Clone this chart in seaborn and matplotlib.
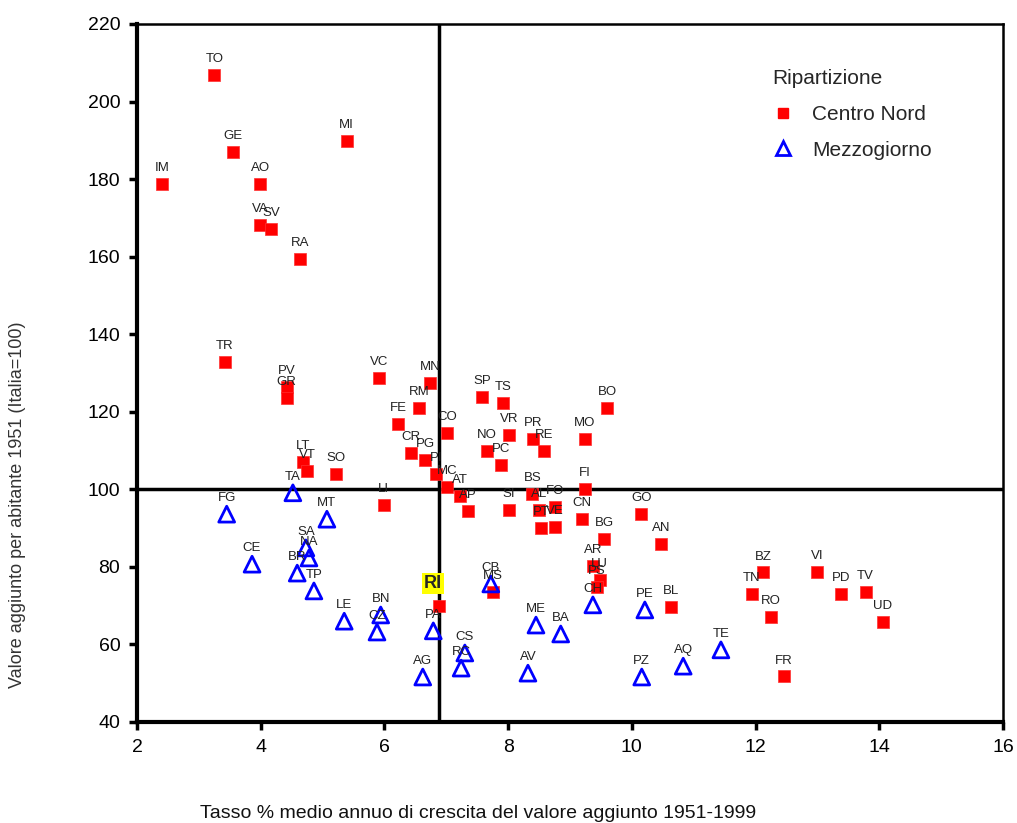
import pandas as pd
import numpy as np
import matplotlib
matplotlib.use('Agg')
import matplotlib.pyplot as plt
import seaborn as sns
from matplotlib.lines import Line2D

# ================================
# Data
# ================================
cn_labels = ['TO', 'GE', 'MI', 'IM', 'AO', 'VA', 'SV', 'RA', 'TR', 'PV', 'GR', 'VC', 'MN', 'RM',
             'FE', 'CO', 'CR', 'PG', 'PI', 'MC', 'AT', 'AP', 'SP', 'TS', 'VR', 'PR', 'RE', 'NO',
             'PC', 'SI', 'BS', 'AL', 'FO', 'PT', 'VE', 'FI', 'CN', 'BG', 'GO', 'AN', 'AR', 'LU',
             'PS', 'BL', 'MS', 'MO', 'BO', 'LI', 'SO', 'LT', 'VT', 'RI', 'BZ', 'TN', 'RO', 'VI',
             'PD', 'TV', 'UD', 'FR']
cn_growth = [3.25, 3.55, 5.39, 2.40, 3.99, 3.99, 4.17, 4.64, 3.42, 4.42, 4.42, 5.91, 6.74, 6.56,
             6.22, 7.01, 6.43, 6.66, 6.83, 7.01, 7.22, 7.35, 7.58, 7.92, 8.01, 8.40, 8.58, 7.66,
             7.88, 8.01, 8.39, 8.50, 8.76, 8.53, 8.76, 9.24, 9.19, 9.55, 10.15, 10.47, 9.37, 9.48,
             9.44, 10.63, 7.75, 9.24, 9.60, 5.99, 5.22, 4.68, 4.75, 6.88, 12.12, 11.94, 12.25, 12.99,
             13.38, 13.78, 14.06, 12.46]
cn_value = [206.8, 187.0, 189.8, 178.7, 178.7, 168.2, 167.1, 159.4, 132.8, 126.4, 123.5, 128.7, 127.4, 121.0,
            116.8, 114.5, 109.4, 107.6, 104.0, 100.6, 98.3, 94.4, 123.8, 122.3, 114.0, 113.0, 109.9, 109.9,
            106.3, 94.7, 98.8, 94.7, 95.4, 90.0, 90.3, 100.1, 92.3, 87.2, 93.6, 85.9, 80.2, 76.6,
            74.8, 69.7, 73.5, 113.0, 121.0, 96.0, 104.0, 107.0, 104.7, 69.9, 78.6, 73.0, 67.1, 78.7,
            73.0, 73.5, 65.8, 51.8]

mz_labels = ['FG', 'TA', 'MT', 'CE', 'SA', 'NA', 'BR', 'TP', 'LE', 'BN', 'CZ', 'PA', 'AG', 'CS',
             'RC', 'CB', 'ME', 'BA', 'AV', 'CH', 'PE', 'PZ', 'AQ', 'TE']
mz_growth = [3.45, 4.52, 5.07, 3.86, 4.73, 4.78, 4.59, 4.86, 5.35, 5.94, 5.88, 6.79, 6.62, 7.30,
             7.24, 7.72, 8.45, 8.85, 8.32, 9.37, 10.21, 10.16, 10.83, 11.44]
mz_value = [93.6, 99.1, 92.3, 80.7, 84.9, 82.3, 78.4, 73.8, 66.0, 67.6, 63.2, 63.5, 51.6, 57.8,
            53.9, 75.6, 65.0, 62.7, 52.6, 70.2, 68.9, 51.6, 54.4, 58.6]

italy_growth = 6.88
italy_value = 100

cn = pd.DataFrame({'growth': cn_growth, 'value': cn_value, 'label': cn_labels})
mz = pd.DataFrame({'growth': mz_growth, 'value': mz_value, 'label': mz_labels})

# ================================
# Plot
# ================================
sns.set_style('white')
plt.rcParams['font.family'] = ['Liberation Sans', 'DejaVu Sans']

fig = plt.figure(figsize=(10.17, 8.23), dpi=100)
ax = fig.add_axes([137 / 1017, 101 / 823, 866 / 1017, 698 / 823])

ax.axvline(italy_growth, color='black', lw=2.5, zorder=1)
ax.axhline(italy_value, color='black', lw=2.5, zorder=1)

sns.scatterplot(data=cn, x='growth', y='value', marker='s', s=66, color='#ff0000',
                edgecolor='#ff3030', linewidth=0.5, ax=ax, zorder=3)
sns.scatterplot(data=mz, x='growth', y='value', marker='^', s=130, facecolor='none',
                edgecolor='#0000ff', linewidth=2, ax=ax, zorder=3)

# point labels
for df in (cn, mz):
    for _, r in df.iterrows():
        if r['label'] == 'RI':
            ax.annotate('RI', (r['growth'], r['value']), xytext=(-4, 10), textcoords='offset points',
                        ha='center', va='bottom', fontsize=13, fontweight='bold',
                        bbox=dict(boxstyle='square,pad=0.1', fc='#ffff00', ec='none'), zorder=4)
        else:
            ax.annotate(r['label'], (r['growth'], r['value']), xytext=(0, 7), textcoords='offset points',
                        ha='center', va='bottom', fontsize=9.5, color='#222222', zorder=4)

ax.set_xlim(2, 16)
ax.set_ylim(40, 220)
ax.set_xticks(range(2, 17, 2))
ax.set_yticks(range(40, 221, 20))
ax.tick_params(axis='both', direction='out', length=6, width=2.5, labelsize=14, pad=6,
               colors='black', bottom=True, left=True)

for side in ['left', 'bottom']:
    ax.spines[side].set_linewidth(3)
    ax.spines[side].set_color('black')
for side in ['top', 'right']:
    ax.spines[side].set_linewidth(1.8)
    ax.spines[side].set_color('black')

ax.set_xlabel('')
ax.set_ylabel('')
fig.text(478 / 1017, 1 - 813 / 823, 'Tasso % medio annuo di crescita del valore aggiunto 1951-1999',
         ha='center', va='center', fontsize=14, color='#111111')
fig.text(18 / 1017, 1 - 505 / 823, 'Valore aggiunto per abitante 1951 (Italia=100)',
         ha='center', va='center', rotation=90, fontsize=13, color='#333333')

handles = [
    Line2D([], [], marker='s', ls='none', color='#ff0000', markersize=7),
    Line2D([], [], marker='^', ls='none', markerfacecolor='none', markeredgecolor='#0000ff',
           markeredgewidth=2, markersize=10),
]
leg = ax.legend(handles, ['Centro Nord', 'Mezzogiorno'], title='Ripartizione', loc='upper left',
                bbox_to_anchor=(0.712, 0.962), frameon=False, fontsize=15, title_fontsize=15,
                alignment='left', handlelength=1.0, handletextpad=0.9, labelspacing=0.8)

fig.savefig('out.png', dpi=100)
